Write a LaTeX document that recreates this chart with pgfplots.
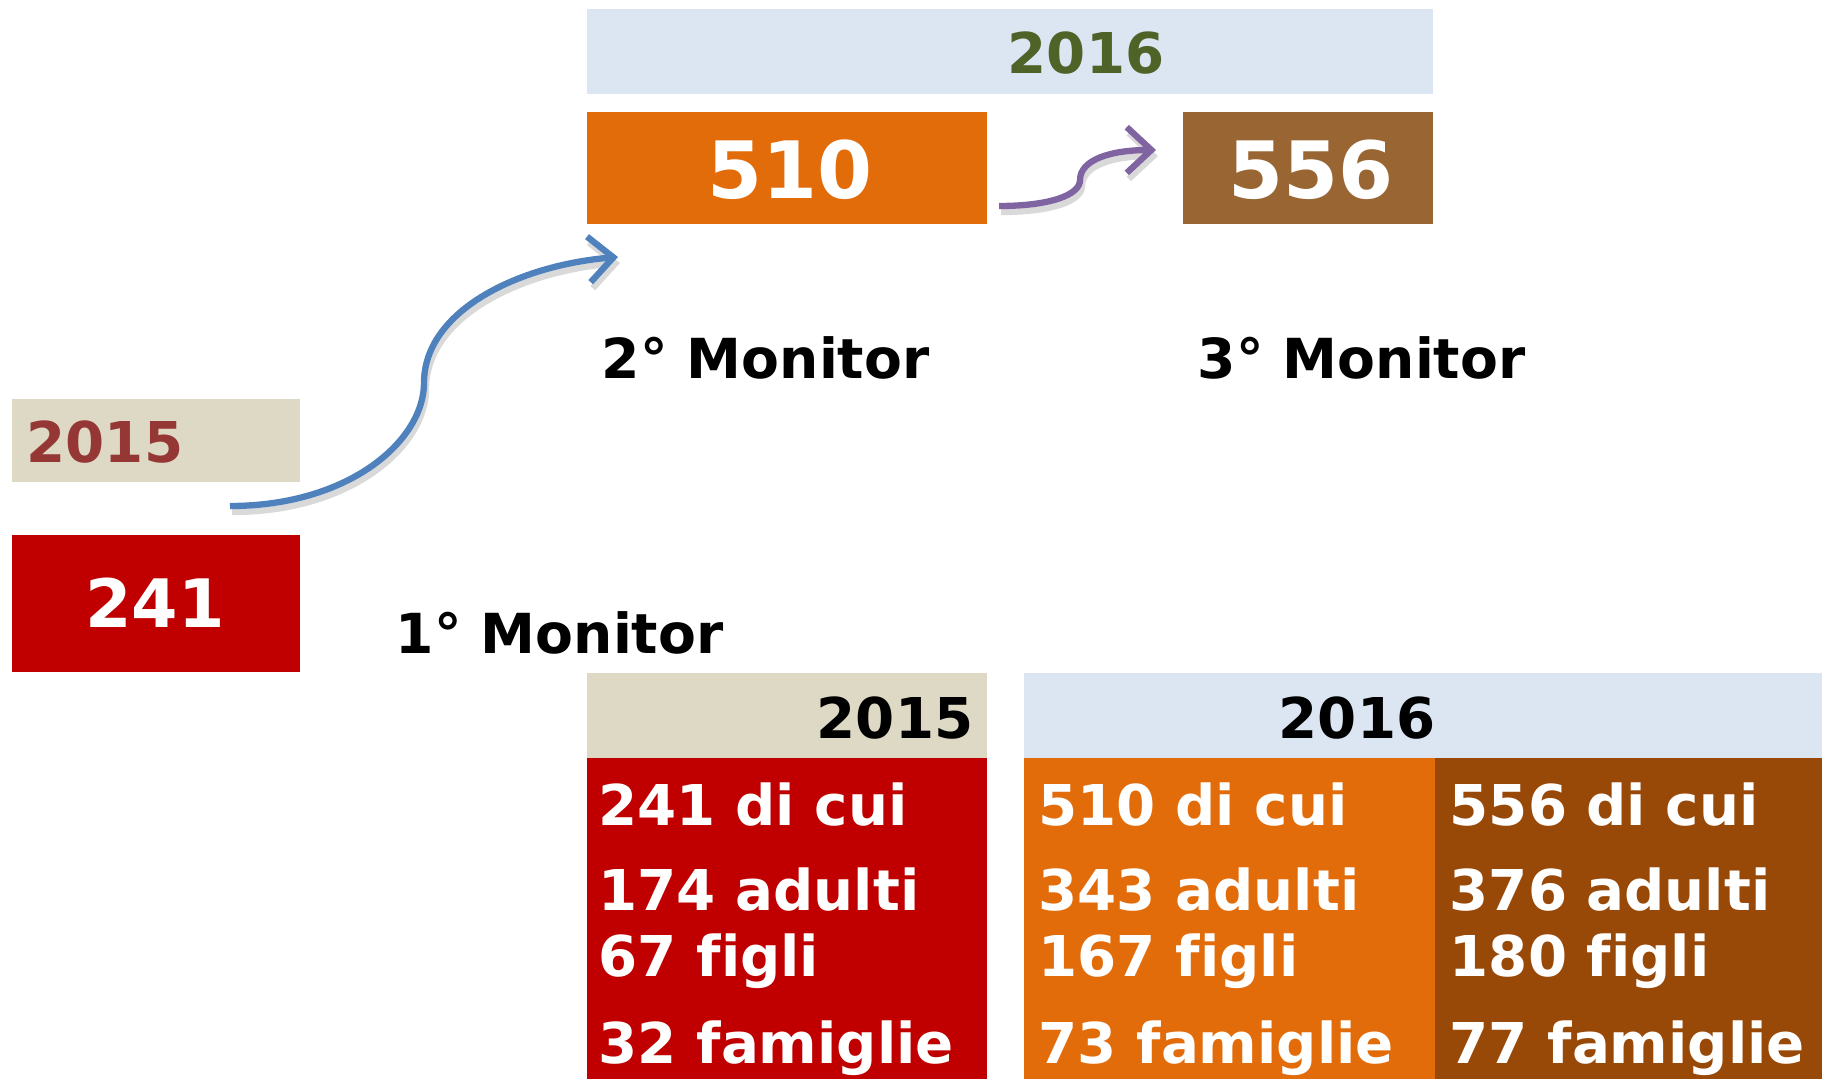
\documentclass[border=0pt]{standalone}
\usepackage{pgfplots}
\pgfplotsset{compat=1.18}
\usepackage{fontspec}
\setmainfont[Ligatures=NoCommon]{DejaVu Sans}
\usetikzlibrary{arrows.meta}

\definecolor{bandblue}{HTML}{DCE6F2}
\definecolor{bandbeige}{HTML}{DDD9C4}
\definecolor{yeargreen}{HTML}{4F6228}
\definecolor{yearred}{HTML}{953735}
\definecolor{boxred}{HTML}{C00000}
\definecolor{boxorange}{HTML}{E36C0A}
\definecolor{boxbrown}{HTML}{996633}
\definecolor{boxdarkbrown}{HTML}{984807}
\definecolor{arrowblue}{HTML}{4F81BD}
\definecolor{arrowpurple}{HTML}{8064A2}

% box from (x1,y1) to (x2,y2), in pixels of the reference
\newcommand{\tile}[5]{%
  \addplot[fill=#5, draw=none] coordinates {(#1,#2) (#3,#2) (#3,#4) (#1,#4)} -- cycle;}
\tikzset{cell/.style={anchor=base west, inner sep=0pt, text=white, font=\bfseries\fontsize{16}{19}\selectfont},
  barb/.style={line width=1.8pt, -{Straight Barb[length=7pt,width=13pt]}}}

\begin{document}
\begin{tikzpicture}
\begin{axis}[
    scale only axis,
    width=18.22cm, height=10.79cm,
    xmin=0, xmax=1822, ymin=0, ymax=1079,
    y dir=reverse,
    hide axis,
    clip=false,
]
% upper part
\tile{587}{9}{1433}{94}{bandblue}
\tile{587}{112}{987}{224}{boxorange}
\tile{1183}{112}{1433}{224}{boxbrown}
\tile{12}{399}{300}{482}{bandbeige}
\tile{12}{535}{300}{672}{boxred}

% lower table
\tile{587}{673}{987}{758}{bandbeige}
\tile{1024}{673}{1822}{758}{bandblue}
\tile{587}{758}{987}{1079}{boxred}
\tile{1024}{758}{1435}{1079}{boxorange}
\tile{1435}{758}{1822}{1079}{boxdarkbrown}

% arrows (soft shadow first)
\draw[barb, black!15]
  (axis cs:232,512) .. controls (axis cs:352,512) and (axis cs:426,446) .. (axis cs:426,389)
  .. controls (axis cs:426,316) and (axis cs:522,271) .. (axis cs:620,263);
\draw[barb, arrowblue]
  (axis cs:230,506) .. controls (axis cs:350,506) and (axis cs:424,440) .. (axis cs:424,383)
  .. controls (axis cs:424,310) and (axis cs:520,265) .. (axis cs:618,257);
\draw[barb, black!15]
  (axis cs:1001,212) .. controls (axis cs:1052,212) and (axis cs:1082,201) .. (axis cs:1082,186)
  .. controls (axis cs:1082,166) and (axis cs:1112,156) .. (axis cs:1158,156);
\draw[barb, arrowpurple]
  (axis cs:999,206) .. controls (axis cs:1050,206) and (axis cs:1080,195) .. (axis cs:1080,180)
  .. controls (axis cs:1080,160) and (axis cs:1110,150) .. (axis cs:1156,150);

% texts of the upper part
\node[anchor=base, text=yeargreen, font=\bfseries\fontsize{16}{19}\selectfont] at (axis cs:1086,73) {2016};
\node[anchor=base, text=white, font=\bfseries\fontsize{22.5}{26}\selectfont] at (axis cs:790,198) {510};
\node[anchor=base, text=white, font=\bfseries\fontsize{22.5}{26}\selectfont] at (axis cs:1311,198) {556};
\node[anchor=base west, inner sep=0pt, text=yearred, font=\bfseries\fontsize{16}{19}\selectfont] at (axis cs:26,462) {2015};
\node[anchor=base, text=white, font=\bfseries\fontsize{19}{23}\selectfont] at (axis cs:155,627) {241};
\node[anchor=base west, inner sep=0pt, font=\bfseries\fontsize{15.7}{19}\selectfont] at (axis cs:601,378) {2° Monitor};
\node[anchor=base west, inner sep=0pt, font=\bfseries\fontsize{15.7}{19}\selectfont] at (axis cs:1197,378) {3° Monitor};
\node[anchor=base west, inner sep=0pt, font=\bfseries\fontsize{15.7}{19}\selectfont] at (axis cs:395,653) {1° Monitor};

% texts of the table
\node[anchor=base east, inner sep=0pt, font=\bfseries\fontsize{16}{19}\selectfont] at (axis cs:974,738) {2015};
\node[anchor=base, inner sep=0pt, font=\bfseries\fontsize{16}{19}\selectfont] at (axis cs:1357,738) {2016};

\node[cell] at (axis cs:598,825) {241 di cui};
\node[cell] at (axis cs:598,910) {174 adulti};
\node[cell] at (axis cs:598,976) {67 figli};
\node[cell] at (axis cs:598,1063) {32 famiglie};

\node[cell] at (axis cs:1038,825) {510 di cui};
\node[cell] at (axis cs:1038,910) {343 adulti};
\node[cell] at (axis cs:1038,976) {167 figli};
\node[cell] at (axis cs:1038,1063) {73 famiglie};

\node[cell] at (axis cs:1449,825) {556 di cui};
\node[cell] at (axis cs:1449,910) {376 adulti};
\node[cell] at (axis cs:1449,976) {180 figli};
\node[cell] at (axis cs:1449,1063) {77 famiglie};
\end{axis}
\pgfresetboundingbox
\path (current axis.south west) rectangle (current axis.north east);
\end{tikzpicture}
\end{document}
